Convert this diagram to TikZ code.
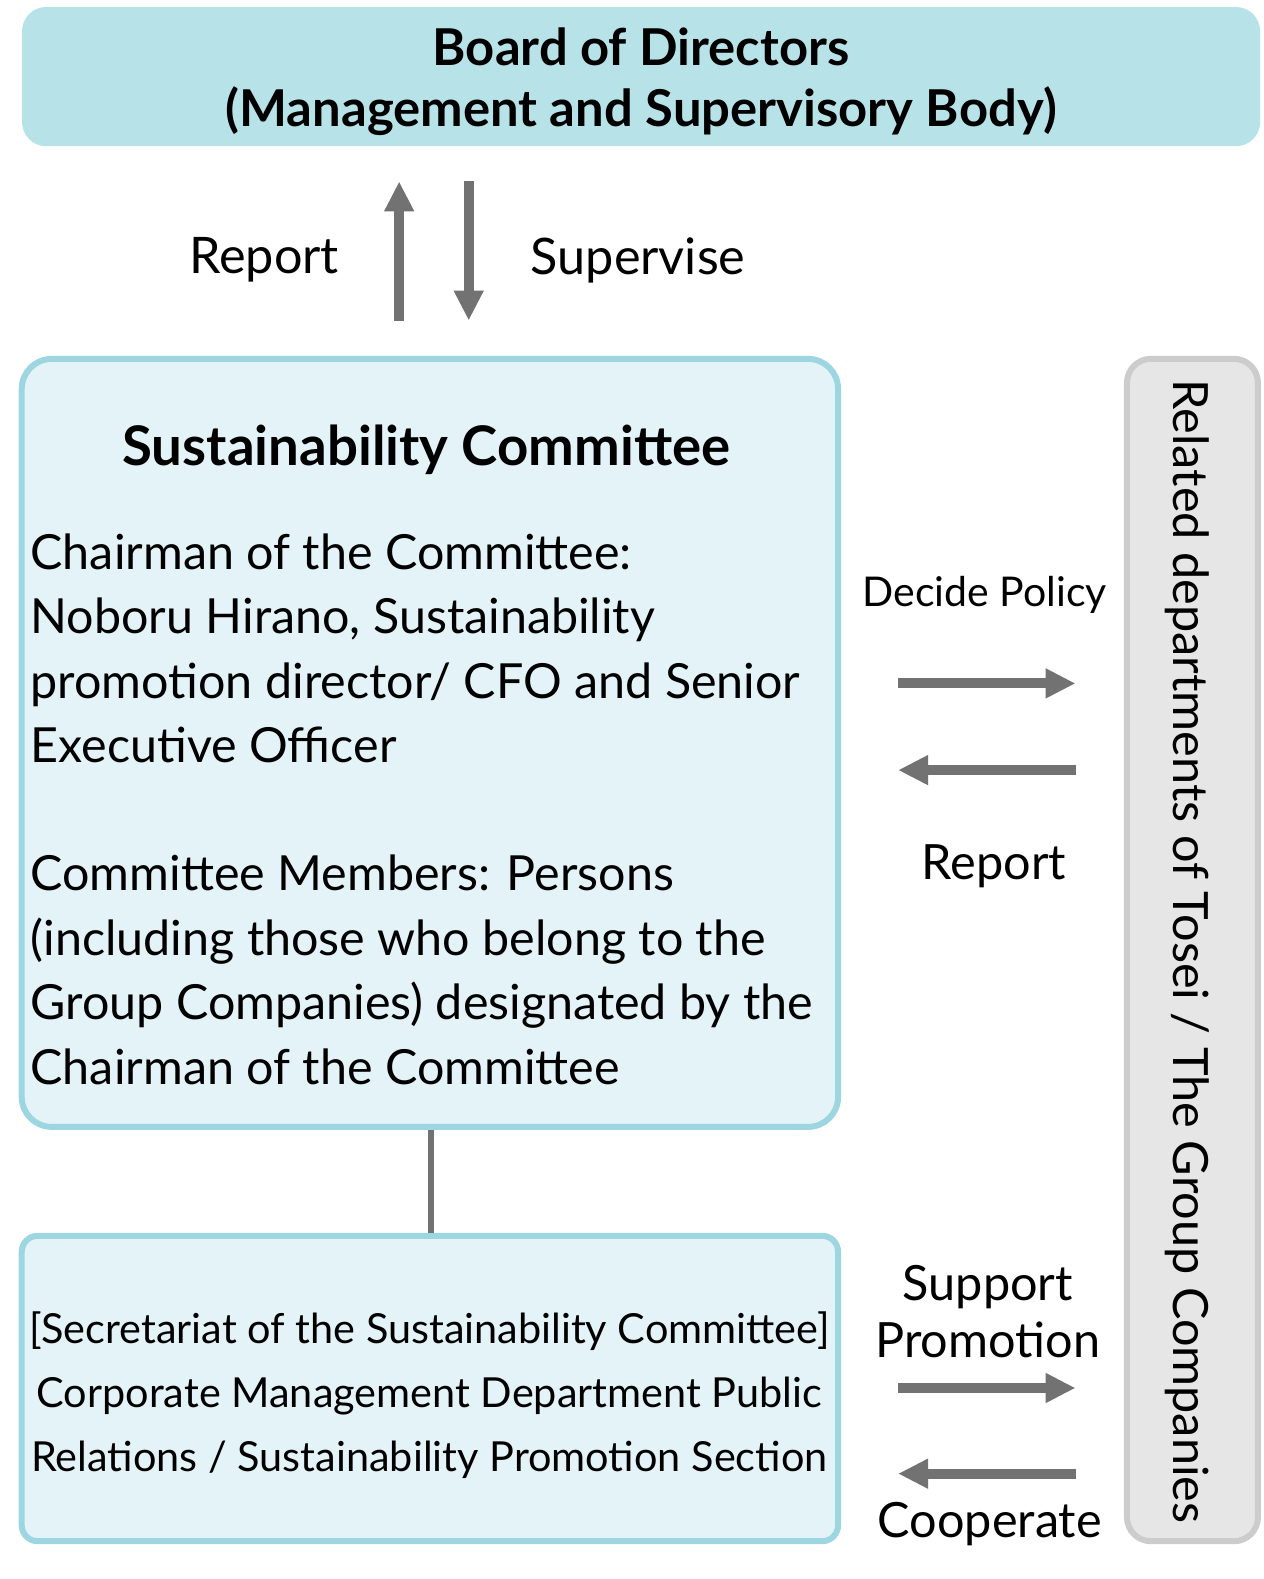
\documentclass[tikz,border=0pt]{standalone}
\usepackage{fontspec}
\setmainfont{Lato}
\usetikzlibrary{arrows.meta}
\definecolor{boardfill}{HTML}{B7E3E8}
\definecolor{commline}{HTML}{9DD6E0}
\definecolor{commfill}{HTML}{E3F3F7}
\definecolor{grayfill}{HTML}{E6E6E6}
\definecolor{grayline}{HTML}{CCCCCC}
\definecolor{arrowgray}{HTML}{727272}
\tikzset{
  boardbox/.style={rectangle, fill=boardfill, rounded corners=12pt, minimum width=619pt, minimum height=69.6pt, inner sep=0pt},
  commbox/.style={rectangle, draw=commline, line width=3pt, fill=commfill, rounded corners=15pt, minimum width=408.2pt, minimum height=384pt, inner sep=0pt},
  secbox/.style={rectangle, draw=commline, line width=3pt, fill=commfill, rounded corners=8pt, minimum width=408.2pt, minimum height=152.7pt, inner sep=0pt},
  graybox/.style={rectangle, draw=grayline, line width=3pt, fill=grayfill, rounded corners=12pt, minimum width=65.5pt, minimum height=591.2pt, inner sep=0pt},
  bigarrow/.style={draw=arrowgray, line width=5pt, -{Triangle[length=15pt,width=14pt]}, arrowgray},
  toplbl/.style={inner sep=0pt, font=\fontsize{25.2pt}{30pt}\selectfont},
  lbl/.style={inner sep=0pt, font=\fontsize{24.3pt}{30pt}\selectfont},
  body/.style={inner sep=0pt, align=left, font=\fontsize{24.2pt}{32.25pt}\selectfont},
}
\begin{document}
\begin{tikzpicture}[x=0.504pt,y=-0.504pt]
\useasboundingbox (0,0) rectangle (1253,1566.5);
% boxes
\node[boardbox] (board) at (636,76) {};
\node[commbox] (comm) at (426.5,737) {};
\node[secbox] (sec) at (426.5,1377.5) {};
\node[graybox] (gray) at (1183,942.5) {};
% board text
\node[inner sep=0pt, align=center, font=\bfseries\fontsize{25.4pt}{30.25pt}\selectfont] (boardtxt) at (636,81) {Board of Directors\\(Management and Supervisory Body)};
% vertical arrows
\coordinate (upS) at (396,318);
\coordinate (upE) at (396,180);
\coordinate (dnS) at (465,180);
\coordinate (dnE) at (465,318);
\draw[bigarrow] (upS) -- (upE);
\draw[bigarrow] (dnS) -- (dnE);
\node[toplbl] (rep1) at (262,258) {Report};
\node[toplbl] (sup) at (633,258) {Supervise};
% committee text
\node[inner sep=0pt, font=\bfseries\fontsize{27.3pt}{30pt}\selectfont] (commtitle) at (423,446.5) {Sustainability Committee};
\node[body, anchor=north west] (chair) at (30,529) {Chairman of the Committee:\\Noboru Hirano, Sustainability\\promotion director/ CFO and Senior\\Executive Officer};
\node[body, anchor=north west] (members) at (30,848) {Committee Members: Persons\\(including those who belong to the\\Group Companies) designated by the\\Chairman of the Committee};
% connector
\draw[draw=arrowgray, line width=3pt] ([xshift=0.75pt]comm.south) -- ([xshift=0.75pt]sec.north);
% secretariat text
\node[inner sep=0pt, align=center, font=\fontsize{20.7pt}{32pt}\selectfont] (sectxt) at (426,1384) {[Secretariat of the Sustainability Committee]\\Corporate Management Department Public\\Relations / Sustainability Promotion Section};
% gray box text
\node[lbl, rotate=-90] (graytxt) at (1178,944) {Related departments of Tosei / The Group Companies};
% side arrows
\coordinate (a1s) at (891,678);
\coordinate (a1e) at (1067,678);
\coordinate (a2s) at (1067,764);
\coordinate (a2e) at (891,764);
\coordinate (a3s) at (891,1377);
\coordinate (a3e) at (1067,1377);
\coordinate (a4s) at (1067,1462);
\coordinate (a4e) at (891,1462);
\draw[bigarrow] (a1s) -- (a1e);
\draw[bigarrow] (a2s) -- (a2e);
\draw[bigarrow] (a3s) -- (a3e);
\draw[bigarrow] (a4s) -- (a4e);
\node[inner sep=0pt, font=\fontsize{20.5pt}{24pt}\selectfont] (decide) at (977,590) {Decide Policy};
\node[lbl] (rep2) at (986,859) {Report};
\node[lbl, align=center, font=\fontsize{24.3pt}{28.7pt}\selectfont] (supprom) at (980,1301) {Support\\Promotion};
\node[lbl] (coop) at (982,1512) {Cooperate};
\end{tikzpicture}
\end{document}
